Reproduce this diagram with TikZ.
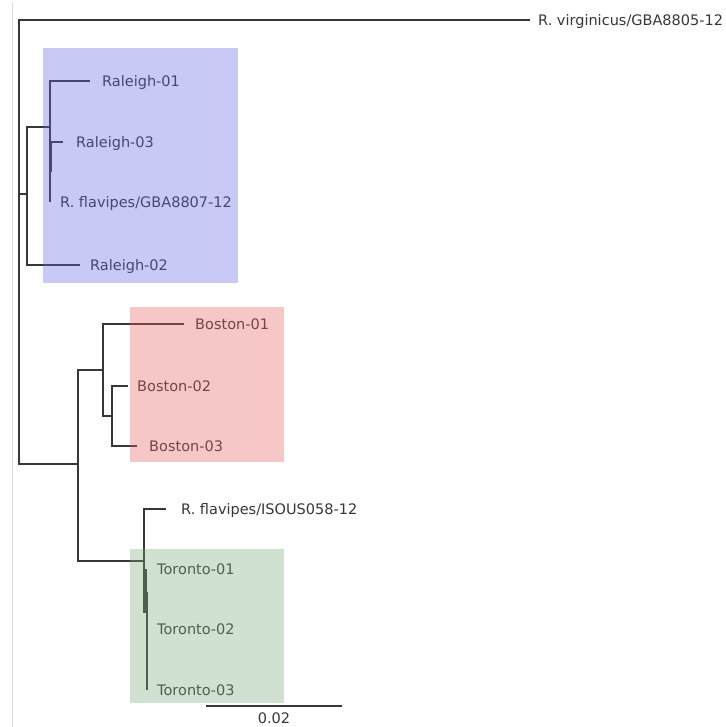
\documentclass[tikz,border=0pt]{standalone}
\usepackage{fontspec}
\setmainfont{DejaVu Sans}
\usepackage{xcolor}
\usepackage{tikz}
\usetikzlibrary{positioning}

\definecolor{branchgray}{RGB}{55,55,55}
\definecolor{raleighblue}{RGB}{100,100,225}
\definecolor{bostonred}{RGB}{232,95,95}
\definecolor{torontogreen}{RGB}{120,170,120}

\begin{document}
\begin{tikzpicture}[x=1pt, y=-1pt,
	branch/.style={draw=branchgray, line width=1.1pt},
	thickbranch/.style={draw=branchgray, line width=1.8pt},
	taxon/.style={inner sep=0pt, text height=10.6pt, text depth=0pt, text=branchgray, font=\fontsize{14.5}{16}\selectfont},
	clade/.style={fill opacity=0.35, draw=none}]
	\useasboundingbox (0,0) rectangle (725,727);
	\draw [black!15, line width=1pt] (12,3) -- (12,727);

	% internal nodes
	\coordinate (root) at (19,242);
	\coordinate (ral) at (27,194);
	\coordinate (ral1) at (50,127);
	\coordinate (ral3a) at (51,142);
	\coordinate (ral3b) at (51,172);
	\coordinate (bt) at (78,464);
	\coordinate (bos) at (103,370);
	\coordinate (bos2) at (112,416);
	\coordinate (tor) at (144,561);
	\coordinate (torlow) at (144,613);
	\coordinate (tor1a) at (146,569);
	\coordinate (tor2a) at (147,592);
	\coordinate (tor2b) at (147,660);

	% tips
	\coordinate (virg) at (530,20);
	\coordinate (r01) at (90,81);
	\coordinate (r03) at (63,142);
	\coordinate (gba) at (50,202);
	\coordinate (r02) at (80,265);
	\coordinate (b01) at (184,324);
	\coordinate (b02) at (128,386);
	\coordinate (b03) at (137,446);
	\coordinate (iso) at (166,509);
	\coordinate (t01) at (146,569);
	\coordinate (t02) at (147,629);
	\coordinate (t03) at (147,690);

	% branches
	\draw [branch] (root) |- (virg);
	\draw [branch] (root) |- (ral);
	\draw [branch] (root) |- (bt);
	\draw [branch] (ral) |- (ral1);
	\draw [branch] (ral) |- (r02);
	\draw [branch] (ral1) |- (r01);
	\draw [branch] (ral1) |- (r03);
	\draw [branch] (ral1) |- (gba);
	\draw [thickbranch] (ral3a) -- (ral3b);
	\draw [branch] (bt) |- (bos);
	\draw [branch] (bt) |- (tor);
	\draw [branch] (bos) |- (b01);
	\draw [branch] (bos) |- (bos2);
	\draw [branch] (bos2) |- (b02);
	\draw [branch] (bos2) |- (b03);
	\draw [branch] (tor) |- (iso);
	\draw [branch] (tor) |- (torlow);
	\draw [thickbranch] (tor1a) -- (torlow -| tor1a);
	\draw [branch] (tor2a) -- (t03);
	\draw [thickbranch] (tor2a) -- (tor2b);

	% labels
	\node [taxon, right=8pt of virg] (lvirg) {R. virginicus/GBA8805-12};
	\node [taxon, right=12pt of r01] (lr01) {Raleigh-01};
	\node [taxon, right=13pt of r03] (lr03) {Raleigh-03};
	\node [taxon, right=10pt of gba] (lgba) {R. flavipes/GBA8807-12};
	\node [taxon, right=10pt of r02] (lr02) {Raleigh-02};
	\node [taxon, right=11pt of b01] (lb01) {Boston-01};
	\node [taxon, right=9pt of b02] (lb02) {Boston-02};
	\node [taxon, right=12pt of b03] (lb03) {Boston-03};
	\node [taxon, right=15pt of iso] (liso) {R. flavipes/ISOUS058-12};
	\node [taxon, right=11pt of t01] (lt01) {Toronto-01};
	\node [taxon, right=10pt of t02] (lt02) {Toronto-02};
	\node [taxon, right=10pt of t03] (lt03) {Toronto-03};

	% clade boxes
	\fill [clade, raleighblue] (43,48) rectangle (238,283);
	\fill [clade, bostonred] (130,307) rectangle (284,462);
	\fill [clade, torontogreen] (130,549) rectangle (284,703);

	% scale bar
	\coordinate (sbl) at (206,706);
	\coordinate (sbr) at (342,706);
	\coordinate (sbm) at (274,706);
	\draw [branch] (sbl) -- (sbr);
	\node [taxon, below=6.5pt of sbm] (lscale) {0.02};
\end{tikzpicture}
\end{document}
